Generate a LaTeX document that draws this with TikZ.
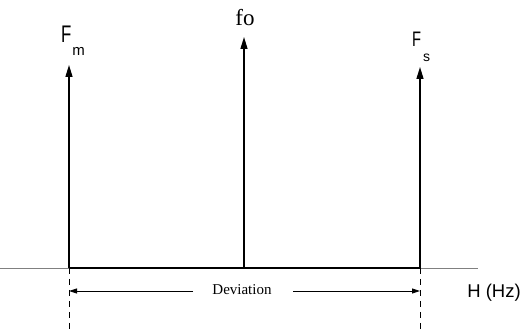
\documentclass[tikz,border=0pt]{standalone}
\usepackage{fontspec}
\setmainfont{Liberation Serif}
\newfontfamily\labsans{Liberation Sans}
\usetikzlibrary{arrows.meta}
\begin{document}
\begin{tikzpicture}[x=1pt,y=-1pt,
  spike/.style={line width=1.4pt,-{Triangle[length=12pt,width=7pt]}},
  base/.style={line width=1.3pt},
  ext/.style={line width=0.6pt,gray},
  guide/.style={line width=0.9pt,dashed,dash pattern=on 6pt off 5pt},
  dev/.style={line width=0.9pt,-{Triangle[length=8pt,width=5pt]}},
  lab/.style={inner sep=0pt,anchor=base}]
\useasboundingbox (0,0) rectangle (523,331);
% base points
\coordinate (m0) at (69,268);
\coordinate (c0) at (244,268);
\coordinate (s0) at (420,268);
\coordinate (mt) at (69,65);
\coordinate (ct) at (244,37);
\coordinate (st) at (420,67);
\coordinate (lend) at (0,268);
\coordinate (rend) at (478,268);
\coordinate (mb) at (69,331);
\coordinate (sb) at (420,331);
% axis
\draw[ext] (lend) -- (m0);
\draw[ext] (s0) -- (rend);
\draw[base] (m0) -- (s0);
% spikes
\draw[spike] (m0) -- (mt);
\draw[spike] (c0) -- (ct);
\draw[spike] (s0) -- (st);
% guides
\draw[guide] (m0) -- (mb);
\draw[guide] (s0) -- (sb);
% labels
\node[lab,anchor=base west] (fm) at (61,43) {\labsans\fontsize{24}{24}\selectfont\scalebox{0.7}[1]{F}\kern1pt\raisebox{-13pt}{\fontsize{15}{15}\selectfont m}};
\node[lab] (fo) at (245,26) {\fontsize{23}{23}\selectfont fo};
\node[lab,anchor=base west] (fs) at (412,47) {\labsans\fontsize{21}{21}\selectfont\scalebox{0.7}[1]{F}\kern2pt\raisebox{-15pt}{\fontsize{14}{14}\selectfont s}};
\node[lab] (devt) at (242,295) {\fontsize{15}{15}\selectfont Deviation};
\node[lab] (hz) at (494,298) {\labsans\fontsize{18.5}{18.5}\selectfont H (Hz)};
\coordinate (dl) at (69,291);
\coordinate (dr) at (420,291);
\draw[dev] (193,291) -- (dl);
\draw[dev] (293,291) -- (dr);
\end{tikzpicture}
\end{document}
